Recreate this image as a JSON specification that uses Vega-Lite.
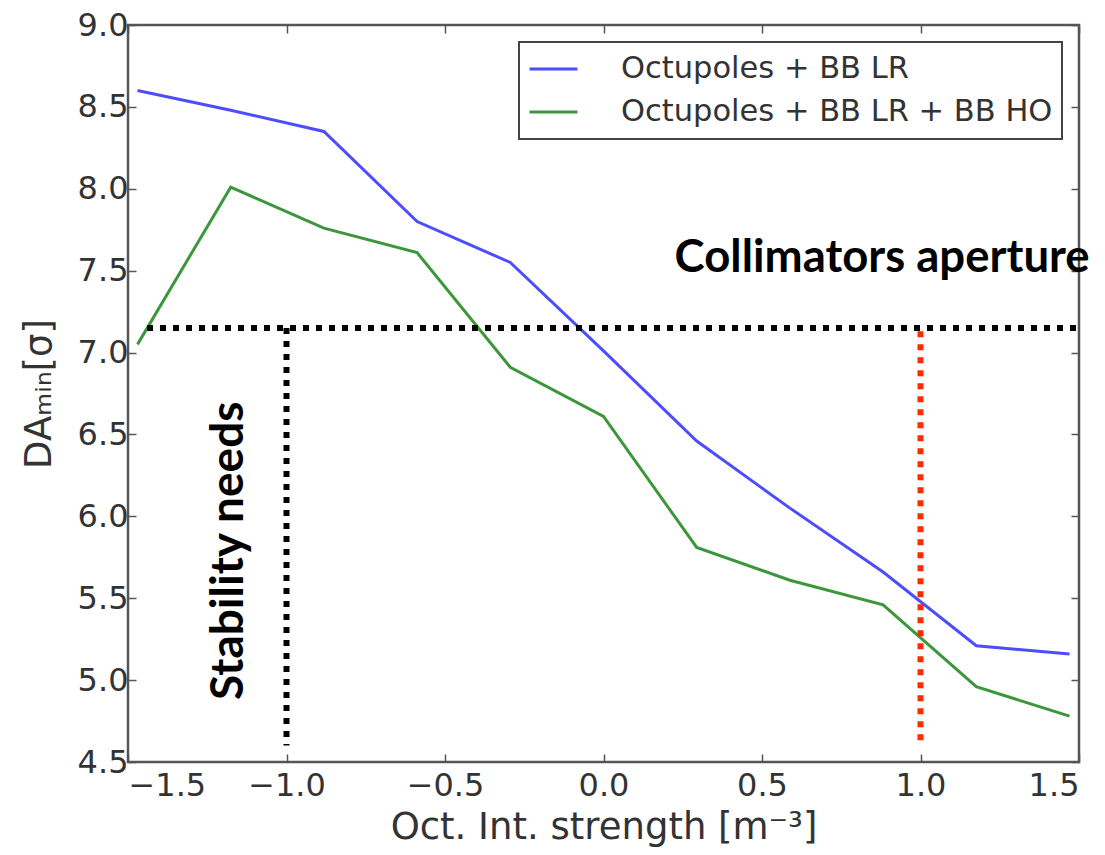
{
  "$schema": "https://vega.github.io/schema/vega-lite/v6.json",
  "autosize": "none",
  "width": 951,
  "height": 737,
  "padding": {"left": 128, "top": 25, "right": 26, "bottom": 93},
  "background": "white",
  "config": {
    "view": {"stroke": "#555", "strokeWidth": 2.5},
    "font": "DejaVu Sans",
    "axis": {
      "grid": false,
      "domain": false,
      "tickColor": "#555",
      "tickWidth": 1.5,
      "tickSize": -8,
      "labelFont": "DejaVu Sans",
      "labelFontSize": 32,
      "labelColor": "#333",
      "titleFont": "DejaVu Sans",
      "titleFontSize": 37,
      "titleFontWeight": "normal",
      "titleColor": "#333"
    },
    "legend": {
      "orient": "top-right",
      "offset": 17,
      "padding": 9,
      "strokeColor": "#444",
      "strokeWidth": 2,
      "fillColor": "white",
      "cornerRadius": 0,
      "labelFont": "DejaVu Sans",
      "labelFontSize": 30.5,
      "labelColor": "#333",
      "labelOffset": 42,
      "symbolType": "stroke",
      "symbolSize": 2300,
      "symbolStrokeWidth": 3,
      "clipHeight": 36,
      "rowPadding": 7,
      "labelLimit": 600
    }
  },
  "datasets": {
    "curves": [
      {"config": "Octupoles + BB LR", "strength": -1.47, "da": 8.60},
      {"config": "Octupoles + BB LR", "strength": -1.176, "da": 8.48},
      {"config": "Octupoles + BB LR", "strength": -0.882, "da": 8.35},
      {"config": "Octupoles + BB LR", "strength": -0.588, "da": 7.80},
      {"config": "Octupoles + BB LR", "strength": -0.294, "da": 7.55},
      {"config": "Octupoles + BB LR", "strength": 0.0, "da": 7.01},
      {"config": "Octupoles + BB LR", "strength": 0.294, "da": 6.46},
      {"config": "Octupoles + BB LR", "strength": 0.588, "da": 6.05},
      {"config": "Octupoles + BB LR", "strength": 0.882, "da": 5.66},
      {"config": "Octupoles + BB LR", "strength": 1.176, "da": 5.21},
      {"config": "Octupoles + BB LR", "strength": 1.47, "da": 5.16},
      {"config": "Octupoles + BB LR + BB HO", "strength": -1.47, "da": 7.05},
      {"config": "Octupoles + BB LR + BB HO", "strength": -1.176, "da": 8.01},
      {"config": "Octupoles + BB LR + BB HO", "strength": -0.882, "da": 7.76},
      {"config": "Octupoles + BB LR + BB HO", "strength": -0.588, "da": 7.61},
      {"config": "Octupoles + BB LR + BB HO", "strength": -0.294, "da": 6.91},
      {"config": "Octupoles + BB LR + BB HO", "strength": 0.0, "da": 6.61},
      {"config": "Octupoles + BB LR + BB HO", "strength": 0.294, "da": 5.81},
      {"config": "Octupoles + BB LR + BB HO", "strength": 0.588, "da": 5.61},
      {"config": "Octupoles + BB LR + BB HO", "strength": 0.882, "da": 5.46},
      {"config": "Octupoles + BB LR + BB HO", "strength": 1.176, "da": 4.96},
      {"config": "Octupoles + BB LR + BB HO", "strength": 1.47, "da": 4.78}
    ],
    "aperture": [
      {"x": -1.44, "x2": 1.5, "y": 7.15, "y2": 7.15},
      {"x": -1.0, "x2": -1.0, "y": 7.15, "y2": 4.6}
    ],
    "target": [
      {"x": 1.0, "x2": 1.0, "y": 7.13, "y2": 4.6}
    ],
    "notes": [
      {"x": 0.879, "y": 7.49, "note": "Collimators aperture"}
    ],
    "sideNotes": [
      {"x": -1.18, "y": 5.79, "note": "Stability needs"}
    ]
  },
  "resolve": {"axis": {"x": "independent", "y": "independent"}},
  "layer": [
    {
      "data": {"name": "curves"},
      "mark": {"type": "line", "strokeWidth": 3, "clip": true},
      "encoding": {
        "x": {
          "field": "strength", "type": "quantitative",
          "scale": {"domain": [-1.5, 1.5], "nice": false, "zero": false},
          "axis": {
            "orient": "bottom",
            "values": [-1.5, -1.0, -0.5, 0.0, 0.5, 1.0, 1.5],
            "format": ".1f",
            "labelPadding": 16,
            "title": "Oct. Int. strength [m⁻³]",
            "titlePadding": 8
          }
        },
        "y": {
          "field": "da", "type": "quantitative",
          "scale": {"domain": [4.5, 9.0], "nice": false, "zero": false},
          "axis": {
            "orient": "left",
            "values": [4.5, 5.0, 5.5, 6.0, 6.5, 7.0, 7.5, 8.0, 8.5, 9.0],
            "format": ".1f",
            "labelPadding": 8,
            "title": "DAₘᵢₙ[σ]",
            "titlePadding": 19
          }
        },
        "color": {
          "field": "config", "type": "nominal",
          "scale": {
            "domain": ["Octupoles + BB LR", "Octupoles + BB LR + BB HO"],
            "range": ["#4d4dff", "#3c963c"]
          },
          "legend": {"title": null}
        }
      }
    },
    {
      "data": {"name": "curves"},
      "mark": {"type": "point", "opacity": 0},
      "encoding": {
        "x": {
          "field": "strength", "type": "quantitative",
          "axis": {
            "orient": "top",
            "values": [-1.5, -1.0, -0.5, 0.0, 0.5, 1.0, 1.5],
            "labels": false,
            "title": null
          }
        },
        "y": {
          "field": "da", "type": "quantitative",
          "axis": {
            "orient": "right",
            "values": [4.5, 5.0, 5.5, 6.0, 6.5, 7.0, 7.5, 8.0, 8.5, 9.0],
            "labels": false,
            "title": null
          }
        }
      }
    },
    {
      "data": {"name": "aperture"},
      "mark": {"type": "rule", "color": "black", "strokeWidth": 6, "strokeDash": [6, 7], "strokeCap": "butt"},
      "encoding": {
        "x": {"field": "x", "type": "quantitative", "axis": null},
        "x2": {"field": "x2"},
        "y": {"field": "y", "type": "quantitative", "axis": null},
        "y2": {"field": "y2"}
      }
    },
    {
      "data": {"name": "target"},
      "mark": {"type": "rule", "color": "#ff2a00", "strokeWidth": 6, "strokeDash": [6, 7], "strokeCap": "butt"},
      "encoding": {
        "x": {"field": "x", "type": "quantitative", "axis": null},
        "x2": {"field": "x2"},
        "y": {"field": "y", "type": "quantitative", "axis": null},
        "y2": {"field": "y2"}
      }
    },
    {
      "data": {"name": "notes"},
      "mark": {"type": "text", "font": "Lato", "fontWeight": "bold", "fontSize": 45.5, "color": "black", "align": "center", "baseline": "alphabetic"},
      "encoding": {
        "x": {"field": "x", "type": "quantitative", "axis": null},
        "y": {"field": "y", "type": "quantitative", "axis": null},
        "text": {"field": "note"}
      }
    },
    {
      "data": {"name": "sideNotes"},
      "mark": {"type": "text", "font": "Lato", "fontWeight": "bold", "fontSize": 46, "color": "black", "align": "center", "baseline": "middle", "angle": 270},
      "encoding": {
        "x": {"field": "x", "type": "quantitative", "axis": null},
        "y": {"field": "y", "type": "quantitative", "axis": null},
        "text": {"field": "note"}
      }
    }
  ]
}
